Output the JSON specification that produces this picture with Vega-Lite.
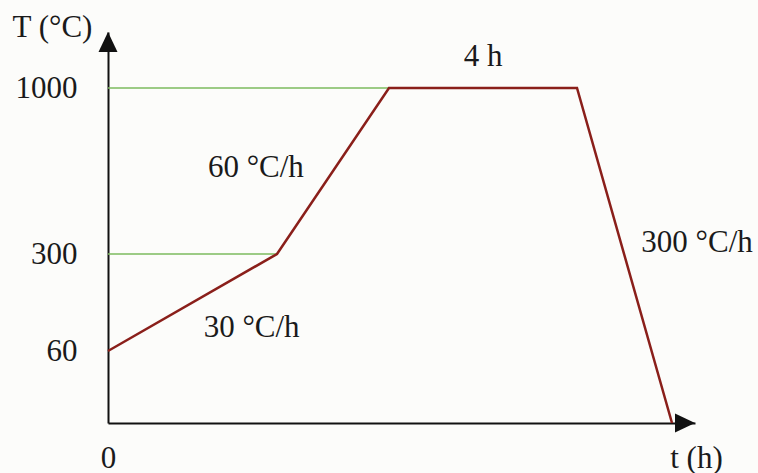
{
  "$schema": "https://vega.github.io/schema/vega-lite/v6.json",
  "width": 587,
  "height": 391,
  "autosize": {"type": "none"},
  "padding": {"left": 108, "top": 32, "right": 63, "bottom": 50},
  "background": "#fcfcfa",
  "config": {"view": {"stroke": null}, "font": "Liberation Serif"},
  "encoding": {
    "x": {
      "field": "t",
      "type": "quantitative",
      "scale": {"domain": [0, 8, 19.67, 23.67, 27, 28], "range": [0, 169, 281, 469, 564, 587], "nice": false, "zero": false},
      "axis": {
        "values": [0],
        "format": "d",
        "grid": false,
        "ticks": false,
        "tickSize": 0,
        "labelFlush": false,
        "labelAlign": "center",
        "labelBaseline": "top",
        "labelDx": 4,
        "labelPadding": 20,
        "labelFont": "Liberation Serif",
        "labelFontSize": 31,
        "labelColor": "#1a1a1a",
        "domainColor": "#111111",
        "domainWidth": 2,
        "title": "t (h)",
        "titleFont": "Liberation Serif",
        "titleFontSize": 31,
        "titleFontWeight": "normal",
        "titleColor": "#1a1a1a",
        "titleAngle": 0,
        "titleAlign": "center",
        "titleBaseline": "middle",
        "titleX": 588,
        "titleY": 35
      }
    },
    "y": {
      "field": "T",
      "type": "quantitative",
      "scale": {"domain": [0, 60, 300, 1000, 1200], "range": [391, 319, 222, 56, 0], "nice": false, "zero": false},
      "axis": {
        "values": [60, 300, 1000],
        "format": "d",
        "grid": false,
        "ticks": false,
        "tickSize": 0,
        "labelFlush": false,
        "labelPadding": 31,
        "labelFont": "Liberation Serif",
        "labelFontSize": 31,
        "labelColor": "#1a1a1a",
        "domainColor": "#111111",
        "domainWidth": 2,
        "title": "T (°C)",
        "titleFont": "Liberation Serif",
        "titleFontSize": 31,
        "titleFontWeight": "normal",
        "titleColor": "#1a1a1a",
        "titleAngle": 0,
        "titleAlign": "center",
        "titleBaseline": "middle",
        "titleX": -56,
        "titleY": -5
      }
    }
  },
  "layer": [
    {
      "data": {"values": [{"t": 0, "t2": 8, "T": 300}, {"t": 0, "t2": 19.67, "T": 1000}]},
      "mark": {"type": "rule", "color": "#7dbb5e", "strokeWidth": 1.5},
      "encoding": {"x2": {"field": "t2"}}
    },
    {
      "data": {"values": [
        {"t": 0, "T": 60},
        {"t": 8, "T": 300},
        {"t": 19.67, "T": 1000},
        {"t": 23.67, "T": 1000},
        {"t": 27, "T": 0}
      ]},
      "mark": {"type": "line", "color": "#8a1f1a", "strokeWidth": 2.5}
    },
    {
      "data": {"values": [{"t": 0, "T": 1200}]},
      "mark": {"type": "point", "shape": "M0,0L-0.95,2L0.95,2Z", "size": 400, "filled": true, "color": "#111111", "opacity": 1}
    },
    {
      "data": {"values": [{"t": 28, "T": 0}]},
      "mark": {"type": "point", "shape": "M0,0L-2,-0.95L-2,0.95Z", "size": 400, "filled": true, "color": "#111111", "opacity": 1}
    },
    {
      "data": {"values": [
        {"label": "4 h", "t": 21.67, "T": 1111},
        {"label": "60 °C/h", "t": 7.0, "T": 663},
        {"label": "30 °C/h", "t": 6.8, "T": 117},
        {"label": "300 °C/h", "t": 28.09, "T": 346}
      ]},
      "mark": {"type": "text", "font": "Liberation Serif", "fontSize": 31, "color": "#1a1a1a", "align": "center", "baseline": "middle"},
      "encoding": {"text": {"field": "label"}}
    }
  ]
}
